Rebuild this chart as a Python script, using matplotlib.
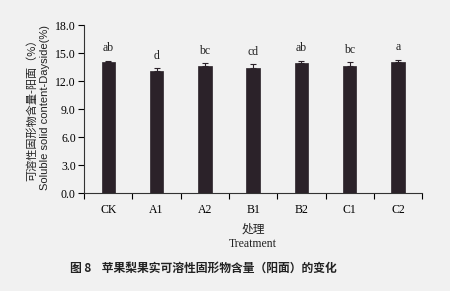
import numpy as np
import matplotlib
matplotlib.use("Agg")
import matplotlib.pyplot as plt

# data
treatments = ["CK", "A1", "A2", "B1", "B2", "C1", "C2"]
values = [14.0, 13.1, 13.6, 13.4, 13.9, 13.6, 14.0]
errors = [0.15, 0.25, 0.3, 0.4, 0.3, 0.4, 0.3]
letters = ["ab", "d", "bc", "cd", "ab", "bc", "a"]
yticks = [0.0, 3.0, 6.0, 9.0, 12.0, 15.0, 18.0]

SERIF = ["Liberation Serif", "Noto Sans CJK SC"]
CJK = ["Noto Sans CJK SC", "DejaVu Sans"]
BG = "#f1f1f1"
BAR = "#2b2229"

fig = plt.figure(figsize=(4.5, 2.91), dpi=100, facecolor=BG)
ax = fig.add_axes([0.187, 0.336, 0.751, 0.578], facecolor=BG)

x = np.arange(len(treatments))
ax.bar(x, values, width=0.28, color=BAR, edgecolor=BAR, linewidth=0.5)
ax.errorbar(x, values, yerr=[np.zeros(len(errors)), errors], fmt="none",
            ecolor=BAR, elinewidth=0.8, capsize=2.5, capthick=0.8)
for xi, v, e, s in zip(x, values, errors, letters):
    ax.text(xi, v + e + 0.7, s, ha="center", va="bottom", fontsize=8.5,
            family=SERIF, color="#222222")

ax.set_xlim(-0.5, len(treatments) - 0.5)
ax.set_ylim(0, 18)
ax.set_yticks(yticks)
ax.set_yticklabels([f"{t:.1f}" for t in yticks], family=SERIF, fontsize=8.5)
ax.set_xticks(np.arange(-0.5, len(treatments)), minor=False)
ax.set_xticklabels([])
ax.set_xticks(x, minor=True)
ax.set_xticklabels(treatments, minor=True, family=SERIF, fontsize=8.5)
ax.tick_params(axis="x", which="major", length=4, direction="out", width=0.8)
ax.tick_params(axis="x", which="minor", length=0, pad=8)
ax.tick_params(axis="y", length=4, direction="out", width=0.8, pad=2)
for side in ["top", "right"]:
    ax.spines[side].set_visible(False)
for side in ["left", "bottom"]:
    ax.spines[side].set_linewidth(0.8)
    ax.spines[side].set_color("#333333")

fig.text(0.071, 0.63, "可溶性固形物含量-阳面（%）", rotation=90, ha="center",
         va="center", fontsize=8, family=CJK, color="#222222")
fig.text(0.100, 0.63, "Soluble solid content-Dayside(%)", rotation=90,
         ha="center", va="center", fontsize=8, family=["Liberation Sans"],
         color="#222222")
fig.text(0.562, 0.213, "处理", ha="center", va="center", fontsize=8.5,
         family=CJK, color="#222222")
fig.text(0.562, 0.163, "Treatment", ha="center", va="center", fontsize=8.5,
         family=SERIF, color="#222222")
fig.text(0.155, 0.077, "图 8    苹果梨果实可溶性固形物含量（阳面）的变化",
         ha="left", va="center", fontsize=8.5, family=CJK, fontweight="bold",
         color="#222222")

fig.savefig("out.png", dpi=100, facecolor=BG)
